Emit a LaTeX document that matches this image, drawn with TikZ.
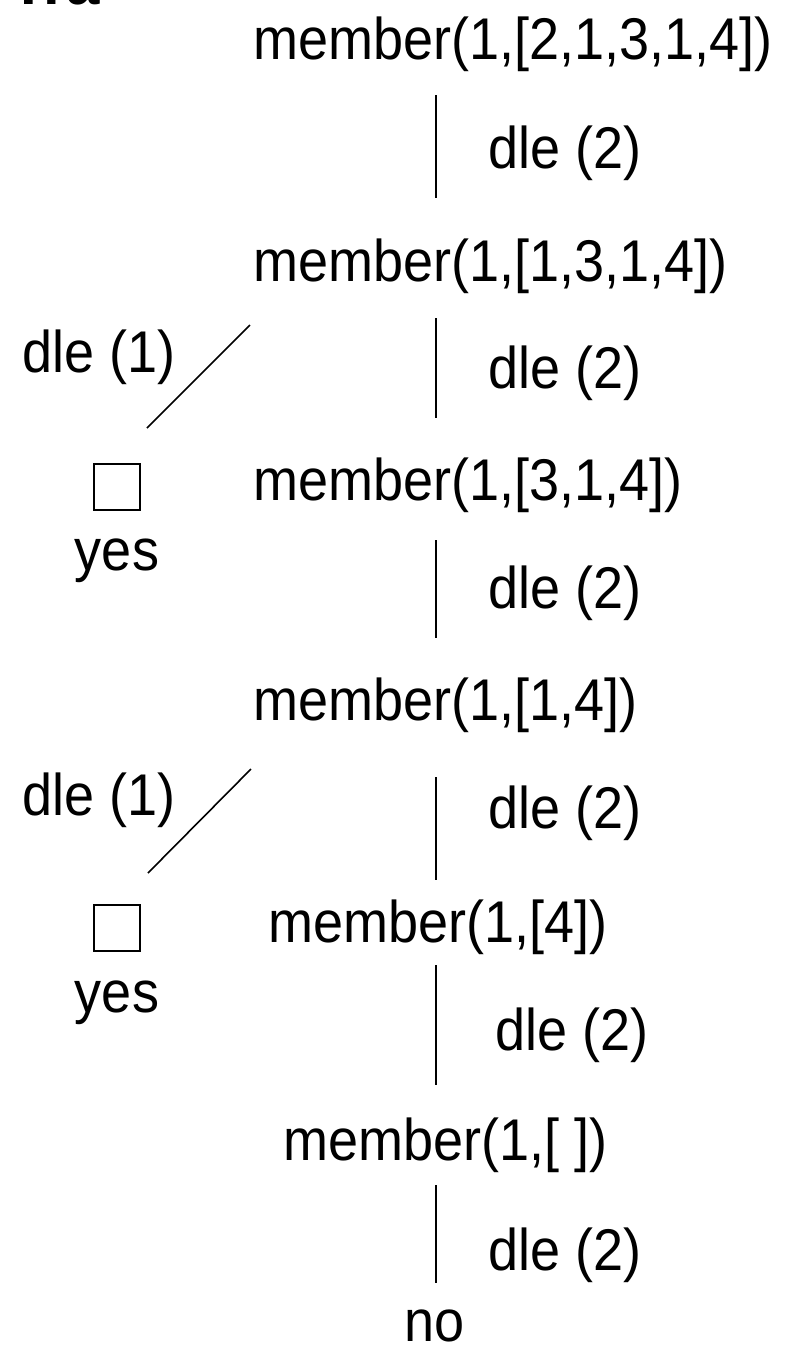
\documentclass[tikz,border=0pt]{standalone}
\usepackage{fontspec}
\setmainfont{Liberation Sans}
\newcommand{\tallt}[1]{\scalebox{1}[1.09]{#1}}
\begin{document}
\begin{tikzpicture}[x=1pt,y=-1pt,
  lbl/.style={anchor=base west,inner sep=0pt,font=\fontsize{54}{60}\selectfont},
  edge/.style={line width=1.6pt,black},
  goal/.style={draw,line width=1.5pt,minimum width=46pt,minimum height=46pt,inner sep=0pt}]
\useasboundingbox (0,0) rectangle (786,1349);
% cut-off title fragment at the top edge
\node[anchor=base west,inner sep=0pt,font=\fontsize{60}{66}\selectfont\bfseries] (title) at (10,5) {Tra};
% goals
\node[lbl] (g1) at (253,59) {\tallt{member(1,[2,1,3,1,4])}};
\node[lbl] (g2) at (253,281) {\tallt{member(1,[1,3,1,4])}};
\node[lbl] (g3) at (253,500) {\tallt{member(1,[3,1,4])}};
\node[lbl] (g4) at (253,720) {\tallt{member(1,[1,4])}};
\node[lbl] (g5) at (268,942) {\tallt{member(1,[4])}};
\node[lbl] (g6) at (283,1160) {\tallt{member(1,[ ])}};
\node[lbl,anchor=base] (no) at (435,1341) {\tallt{no}};
% success boxes
\node[goal] (b1) at (117,487) {};
\node[goal] (b2) at (117,928) {};
\node[lbl,anchor=base] (y1) at (117,570) {\tallt{yes}};
\node[lbl,anchor=base] (y2) at (117,1012) {\tallt{yes}};
% rule labels
\node[lbl] (e1) at (488,168) {\tallt{dle (2)}};
\node[lbl] (e2) at (488,388) {\tallt{dle (2)}};
\node[lbl] (e3) at (488,608) {\tallt{dle (2)}};
\node[lbl] (e4) at (488,828) {\tallt{dle (2)}};
\node[lbl] (e5) at (495,1050) {\tallt{dle (2)}};
\node[lbl] (e6) at (488,1270) {\tallt{dle (2)}};
\node[lbl] (d1) at (22,372) {\tallt{dle (1)}};
\node[lbl] (d2) at (22,815) {\tallt{dle (1)}};
% connector end points
\coordinate (v1a) at (436,95);   \coordinate (v1b) at (436,198);
\coordinate (v2a) at (436,318);  \coordinate (v2b) at (436,418);
\coordinate (v3a) at (436,540);  \coordinate (v3b) at (436,638);
\coordinate (v4a) at (436,777);  \coordinate (v4b) at (436,880);
\coordinate (v5a) at (436,965);  \coordinate (v5b) at (436,1085);
\coordinate (v6a) at (436,1185); \coordinate (v6b) at (436,1283);
\coordinate (s1a) at (250,325);  \coordinate (s1b) at (147,428);
\coordinate (s2a) at (251,769);  \coordinate (s2b) at (148,873);
\draw[edge] (v1a) -- (v1b);
\draw[edge] (v2a) -- (v2b);
\draw[edge] (v3a) -- (v3b);
\draw[edge] (v4a) -- (v4b);
\draw[edge] (v5a) -- (v5b);
\draw[edge] (v6a) -- (v6b);
\draw[edge] (s1a) -- (s1b);
\draw[edge] (s2a) -- (s2b);
\end{tikzpicture}
\end{document}
